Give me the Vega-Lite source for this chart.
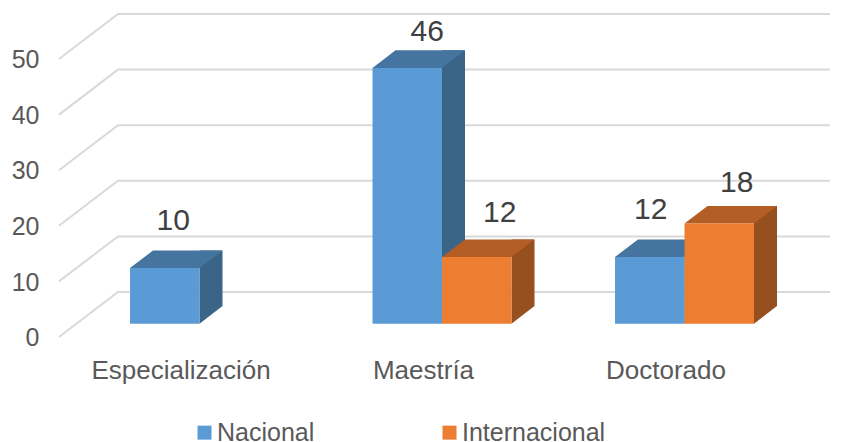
{"$schema":"https://vega.github.io/schema/vega-lite/v6.json","width":770,"height":305.8,"autosize":"none","padding":{"left":60,"top":17.9,"right":14,"bottom":118.3},"background":"white","config":{"view":{"stroke":null},"font":"Liberation Sans"},
"datasets":{"barras":[{"grado":"Especialización","serie":"Nacional","valor":10},{"grado":"Maestría","serie":"Nacional","valor":46},{"grado":"Maestría","serie":"Internacional","valor":12},{"grado":"Doctorado","serie":"Nacional","valor":12},{"grado":"Doctorado","serie":"Internacional","valor":18}],"marcas":[{"m":0},{"m":10},{"m":20},{"m":30},{"m":40},{"m":50}]},
"data":{"name":"barras"},
"encoding":{"x":{"field":"grado","type":"nominal","sort":["Especialización","Maestría","Doctorado"],"scale":{"domain":["Especialización","Maestría","Doctorado"],"range":[18.25,745.75],"paddingInner":0.427,"paddingOuter":0.2135},"axis":{"title":null,"domain":false,"ticks":false,"labelAngle":0,"labelOffset":-18.5,"labelPadding":34,"labelFontSize":26,"labelColor":"#595959","labelFont":"Liberation Sans"}},
"xOffset":{"field":"serie","type":"nominal","scale":{"domain":["Nacional","Internacional"]}},
"y":{"field":"valor","type":"quantitative","scale":{"domain":[0,55],"nice":false},"axis":{"title":null,"domain":false,"ticks":false,"grid":false,"values":[0,10,20,30,40,50],"labelOffset":14,"labelPadding":21,"labelFontSize":25,"labelColor":"#595959","labelFont":"Liberation Sans"}}},
"layer":[
{"data":{"name":"marcas"},"mark":{"type":"point","shape":"M -0.9575 0.03325 L -0.81 -0.07925 L 0.97 -0.07925","size":640000,"filled":false,"stroke":"#D9D9D9","strokeWidth":2,"opacity":1,"clip":false},"encoding":{"x":{"datum":"Maestría"},"xOffset":null,"y":{"field":"m","type":"quantitative"}}},
{"transform":[{"filter":"datum.serie==='Nacional'"}],"mark":{"type":"bar","color":"#3A6488","width":23,"xOffset":11.5,"yOffset":-17.6,"y2Offset":-17.6},"encoding":{"xOffset":null,"y2":{"datum":0}}},
{"transform":[{"filter":"datum.serie==='Nacional'"}],"mark":{"type":"point","shape":"M 0.695 0 L 0.695 -0.352 L 1.155 -0.352 Z","size":10000,"filled":true,"color":"#3A6488","opacity":1},"encoding":{"y":{"datum":0}}},
{"transform":[{"filter":"datum.serie==='Nacional'"}],"mark":{"type":"point","shape":"M -0.695 0 L 0.695 0 L 1.155 -0.352 L -0.235 -0.352 Z","size":10000,"filled":true,"color":"#44749F","opacity":1}},
{"transform":[{"filter":"datum.serie==='Internacional'"}],"mark":{"type":"bar","color":"#964F1F","width":23,"xOffset":81,"yOffset":-17.6,"y2Offset":-17.6},"encoding":{"xOffset":null,"y2":{"datum":0}}},
{"transform":[{"filter":"datum.serie==='Internacional'"}],"mark":{"type":"point","shape":"M 0.695 0 L 0.695 -0.352 L 1.155 -0.352 Z","size":10000,"filled":true,"color":"#964F1F","opacity":1},"encoding":{"y":{"datum":0}}},
{"transform":[{"filter":"datum.serie==='Internacional'"}],"mark":{"type":"point","shape":"M -0.695 0 L 0.695 0 L 1.155 -0.352 L -0.235 -0.352 Z","size":10000,"filled":true,"color":"#B25E25","opacity":1}},
{"mark":{"type":"bar"},"encoding":{"color":{"field":"serie","type":"nominal","scale":{"domain":["Nacional","Internacional"],"range":["#5B9BD5","#ED7D31"]},"legend":{"title":null,"orient":"none","legendX":132,"legendY":402,"direction":"horizontal","columns":2,"columnPadding":122,"symbolType":"square","symbolSize":196,"symbolStrokeWidth":0,"labelFontSize":25,"labelColor":"#595959","labelFont":"Liberation Sans","labelOffset":0}}}},
{"transform":[{"filter":"datum.grado==='Especialización'"}],"mark":{"type":"text","fontSize":30,"color":"#404040","dx":8.5,"dy":-47},"encoding":{"text":{"field":"valor"}}},
{"transform":[{"filter":"datum.grado==='Maestría'&&datum.serie==='Nacional'"}],"mark":{"type":"text","fontSize":30,"color":"#404040","dx":20,"dy":-36},"encoding":{"text":{"field":"valor"}}},
{"transform":[{"filter":"datum.grado==='Maestría'&&datum.serie==='Internacional'"}],"mark":{"type":"text","fontSize":30,"color":"#404040","dx":23,"dy":-44},"encoding":{"text":{"field":"valor"}}},
{"transform":[{"filter":"datum.grado==='Doctorado'&&datum.serie==='Nacional'"}],"mark":{"type":"text","fontSize":30,"color":"#404040","dx":1,"dy":-47},"encoding":{"text":{"field":"valor"}}},
{"transform":[{"filter":"datum.grado==='Doctorado'&&datum.serie==='Internacional'"}],"mark":{"type":"text","fontSize":30,"color":"#404040","dx":17.5,"dy":-41},"encoding":{"text":{"field":"valor"}}}
]}
